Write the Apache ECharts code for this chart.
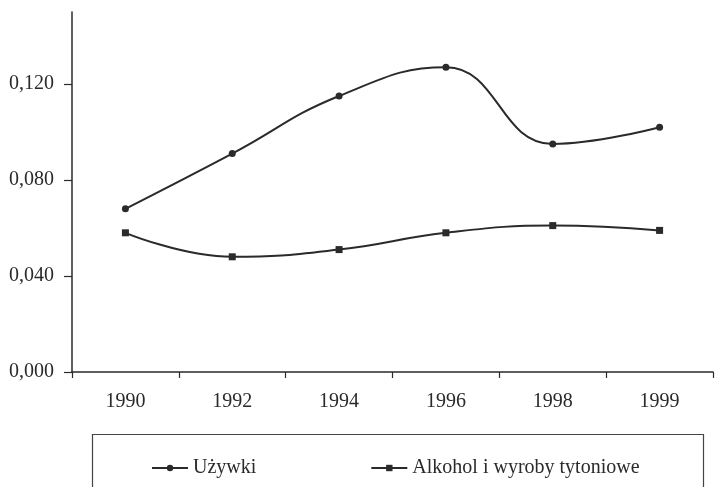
<!DOCTYPE html>
<html><head><meta charset="utf-8">
<script src="https://cdn.jsdelivr.net/npm/echarts@6/dist/echarts.min.js"></script>
<style>html,body{margin:0;padding:0;background:#fff}#c{width:717px;height:487px}</style>
</head><body><div id="c"></div>
<script>
const years = ['1990','1992','1994','1996','1998','1999'];
const uzywki = [0.068, 0.091, 0.115, 0.127, 0.095, 0.102];
const alkohol = [0.058, 0.048, 0.051, 0.058, 0.061, 0.059];
const yTicks = [0, 0.04, 0.08, 0.12];
const seriesNames = ['Używki', 'Alkohol i wyroby tytoniowe'];

const font = 'Liberation Serif';
const ink = '#2a2a2a';
const chart = echarts.init(document.getElementById('c'), null, {renderer: 'canvas'});
chart.setOption({
  backgroundColor: '#fff',
  animation: false,
  grid: {left: 72, right: 4, top: 12, bottom: 115, containLabel: false},
  graphic: [{
    type: 'rect', left: 90, top: 432,
    shape: {width: 611, height: 70},
    style: {fill: 'none', stroke: '#444', lineWidth: 1.2}
  }],
  legend: {
    left: 146, top: 453,
    itemWidth: 36, itemHeight: 8, itemGap: 114,
    textStyle: {fontFamily: font, fontSize: 20, color: ink},
    data: seriesNames
  },
  xAxis: {
    type: 'category', data: years, boundaryGap: true,
    axisLine: {lineStyle: {color: ink, width: 1.5}},
    axisTick: {show: true, length: 6, lineStyle: {color: ink, width: 1.2}},
    axisLabel: {fontFamily: font, fontSize: 20, color: ink, margin: 20}
  },
  yAxis: {
    type: 'value', min: 0, max: 0.15,
    splitLine: {show: false},
    axisLine: {show: true, lineStyle: {color: ink, width: 1.5}},
    axisTick: {show: true, length: 8, customValues: yTicks, lineStyle: {color: ink, width: 1.2}},
    axisLabel: {fontFamily: font, fontSize: 20, color: ink, margin: 18, customValues: yTicks,
      formatter: v => v.toFixed(3).replace('.', ',')}
  },
  series: [
    {name: seriesNames[0], type: 'line', data: uzywki, smooth: 0.45,
     symbol: 'circle', symbolSize: 7,
     lineStyle: {color: ink, width: 2}, itemStyle: {color: ink}},
    {name: seriesNames[1], type: 'line', data: alkohol, smooth: 0.45,
     symbol: 'rect', symbolSize: 7,
     lineStyle: {color: ink, width: 2}, itemStyle: {color: ink}}
  ]
});
</script></body></html>
